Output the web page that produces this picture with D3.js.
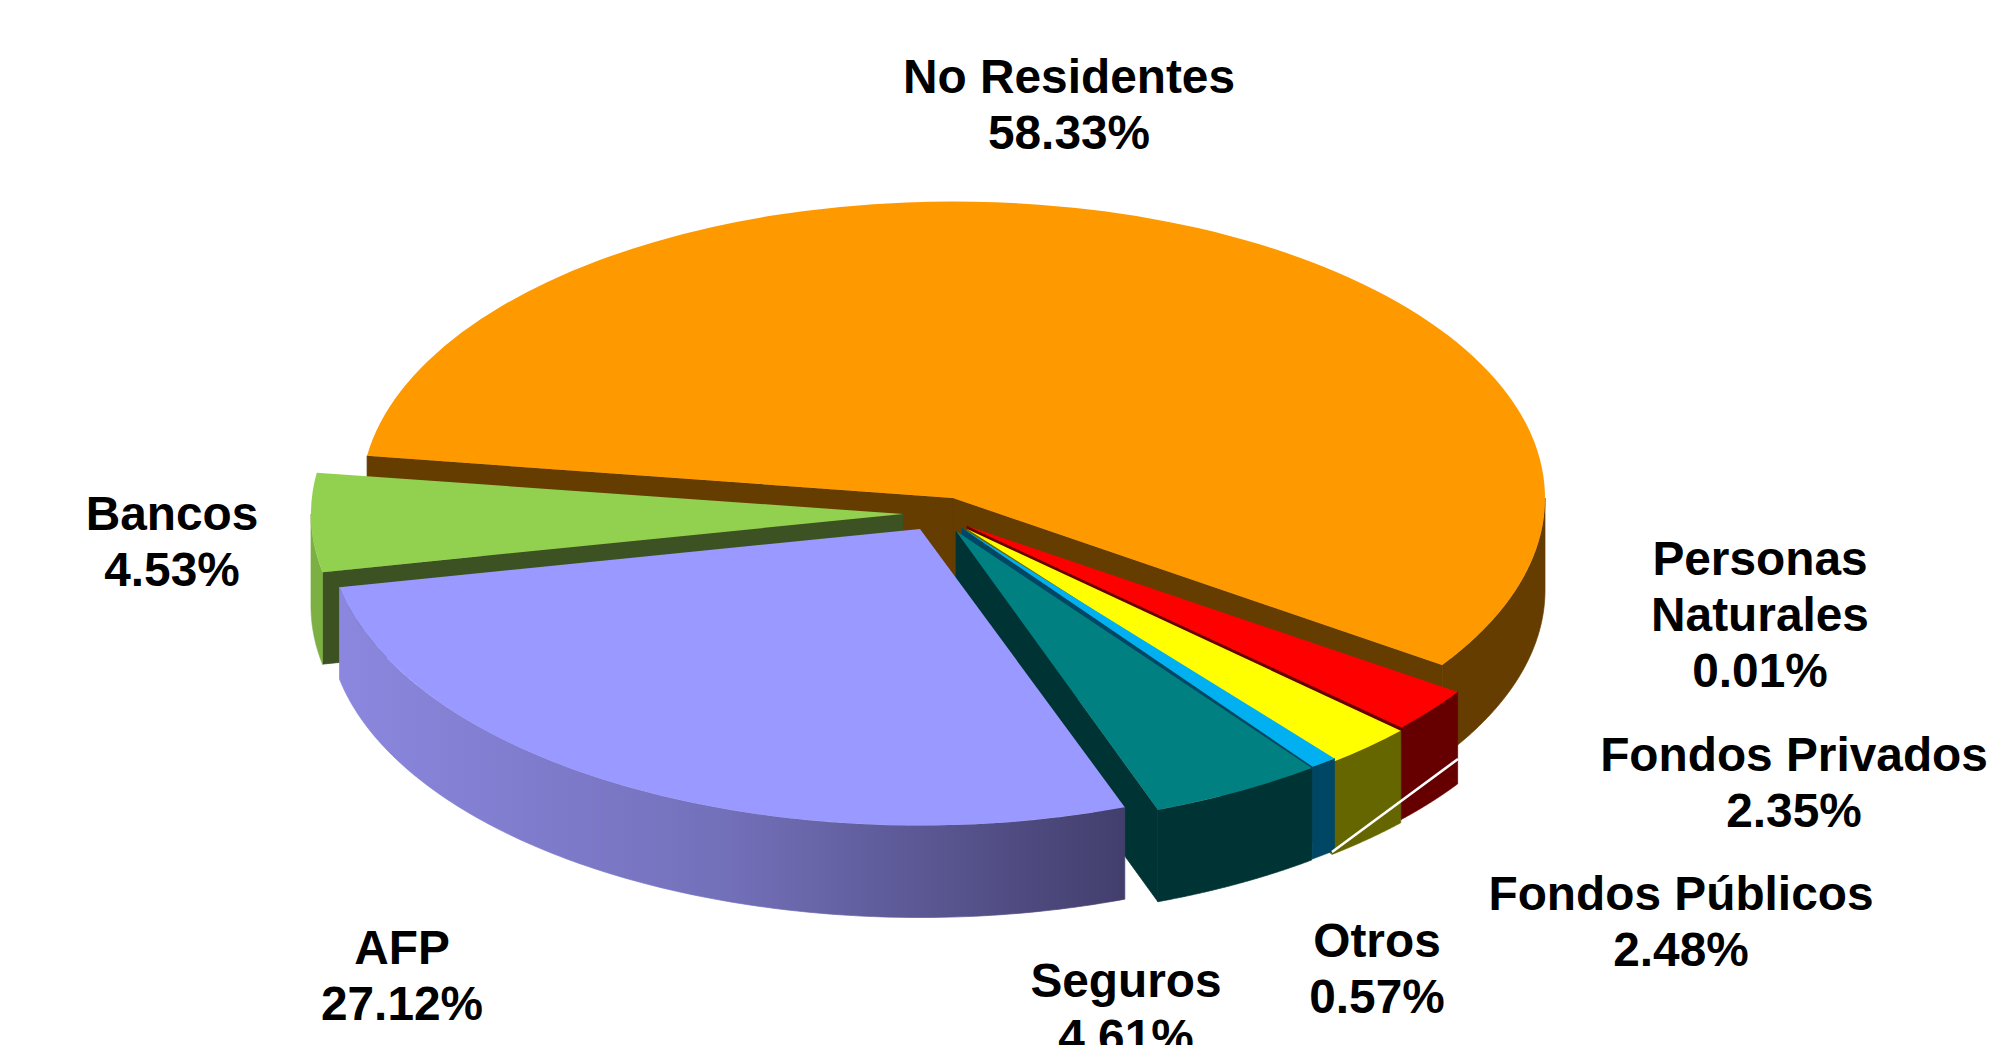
<!DOCTYPE html>
<html><head><meta charset="utf-8">
<style>html,body{margin:0;padding:0;background:#fff;overflow:hidden}svg{display:block}
text{font-family:"Liberation Sans",Arial,sans-serif;font-weight:700;font-size:47.8px;fill:#000;text-anchor:middle}</style>
<script src="https://cdnjs.cloudflare.com/ajax/libs/d3/7.8.5/d3.min.js"></script>
</head><body><svg id="c" width="2007" height="1045"></svg>
<script>
// Data
const categories = ["No Residentes","Personas Naturales","Fondos Privados","Fondos Públicos","Otros","Seguros","AFP","Bancos"];
const values = [58.33,0.01,2.35,2.48,0.57,4.61,27.12,4.53];
// Style and layout
const topColors  = ["#ff9900","#ff0000","#ff0000","#ffff00","#00b0f0","#008080","#9999ff","#92d050"];
const faceColors = ["#663d00","#660000","#660000","#666600","#004766","#003333","#3d5222","#3d5222"];
const sideColors = ["#663d00","#660000","#660000","#666600","#004766","#003333","url(#afpSide)","#7cb042"];
const explodeX = [0,14,14,14,9,3,-33,-50];
const explodeY = [0,28,28,31,30,33,31,16];
const nudgeStart = [3.2,0,-1,-0.6,-1.4,-1.4,-1.3,0];
const nudgeEnd   = [-0.7,0,-0.7,-0.5,-0.8,-1,0,3];
const drawOrder = [0,7,1,2,3,4,5,6];
const labelLines = [["No Residentes","58.33%"],["Personas","Naturales","0.01%"],["Fondos Privados","2.35%"],["Fondos Públicos","2.48%"],["Otros","0.57%"],["Seguros","4.61%"],["AFP","27.12%"],["Bancos","4.53%"]];
const labelX = [1069,1760,1794,1681,1377,1126,402,172];
const labelY = [93,575,771,910,957,997,964,530];
const lineGap = 56.2;
const cx=953, cy=498, rx=592, ry=296.5, depth=92, startDeg=275;

const svg=d3.select("#c");
const rad=d=>d*Math.PI/180;
const defs=svg.append("defs");
const g=defs.append("linearGradient").attr("id","afpSide").attr("gradientUnits","userSpaceOnUse")
  .attr("x1",cx+explodeX[6]-rx).attr("x2",1125).attr("y1",0).attr("y2",0);
g.append("stop").attr("offset",0).attr("stop-color","#8c88e0");
g.append("stop").attr("offset",0.5).attr("stop-color","#7370ba");
g.append("stop").attr("offset",1).attr("stop-color","#423e6c");

const pie=d3.pie().sort(null).startAngle(rad(startDeg)).endAngle(rad(startDeg+360));
const arcs=pie(values);
const topArc=d3.arc().innerRadius(0).outerRadius(rx);
const pt=(i,t,dz=0)=>[cx+explodeX[i]+rx*Math.sin(t), cy+explodeY[i]-ry*Math.cos(t)+dz];
const line=d3.line();

drawOrder.forEach(i=>{
  const a0=arcs[i].startAngle+rad(nudgeStart[i]), a1=arcs[i].endAngle+rad(nudgeEnd[i]);
  if(a1-a0<0.005) return;
  const group=svg.append("g").attr("class","slice");
  // cut faces
  [[a0,Math.sin(a0)<0],[a1,Math.sin(a1)>0]].forEach(([t,vis])=>{
    if(!vis) return;
    const p=pt(i,t), q=[cx+explodeX[i],cy+explodeY[i]];
    group.append("path").attr("d",line([q,p,[p[0],p[1]+depth],[q[0],q[1]+depth]])+"Z")
      .attr("fill",faceColors[i]).attr("stroke",faceColors[i]).attr("stroke-width",0.7);
  });
  // outer wall: only the part of the rim facing the viewer
  for(const k of [0,1]){
    const lo=Math.max(a0,rad(90)+k*2*Math.PI), hi=Math.min(a1,rad(270)+k*2*Math.PI);
    if(hi<=lo) continue;
    const ts=d3.range(0,121).map(n=>lo+(hi-lo)*n/120);
    const upper=ts.map(t=>pt(i,t)), lower=ts.map(t=>pt(i,t,depth)).reverse();
    group.append("path").attr("d",line(upper.concat(lower))+"Z")
      .attr("fill",sideColors[i]).attr("stroke",sideColors[i]).attr("stroke-width",0.7);
  }
  // top face
  group.append("path")
    .attr("transform",`translate(${cx+explodeX[i]},${cy+explodeY[i]}) scale(1,${ry/rx})`)
    .attr("d",topArc({startAngle:a0,endAngle:a1})).attr("fill",topColors[i]);
});

// leader line crossing the wall
svg.append("line").attr("x1",1332).attr("y1",852).attr("x2",1458).attr("y2",759).attr("stroke","#fff").attr("stroke-width",2.6);

labelLines.forEach((ls,i)=>{
  ls.forEach((s,j)=>svg.append("text").attr("x",labelX[i]).attr("y",labelY[i]+j*lineGap).text(s));
});
</script></body></html>
